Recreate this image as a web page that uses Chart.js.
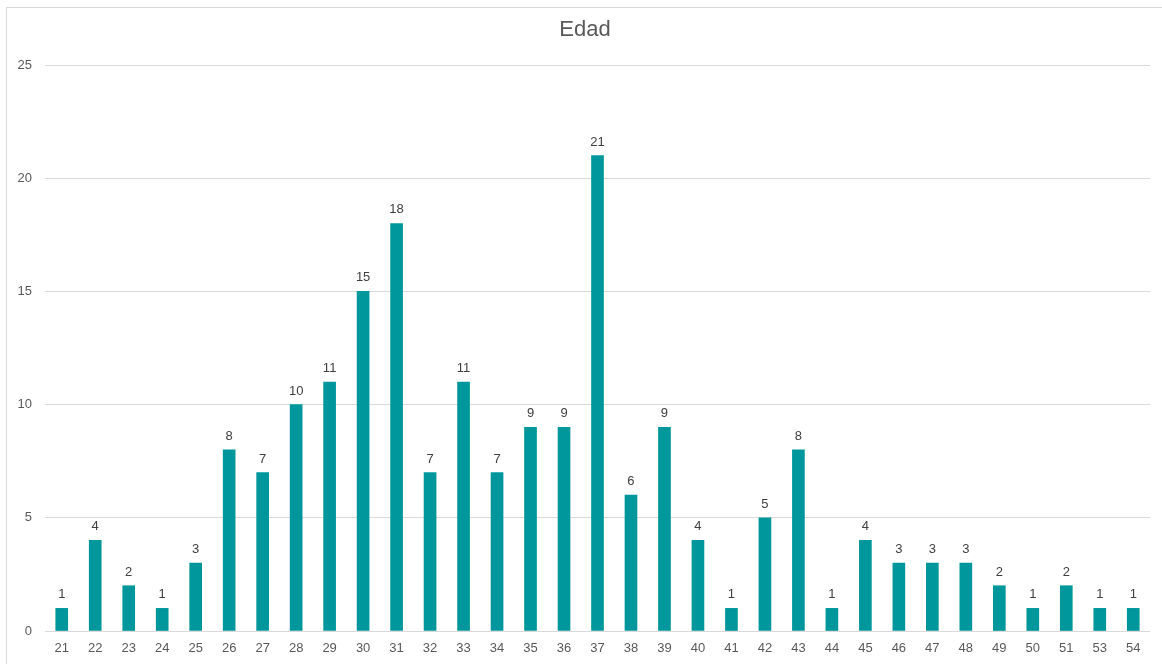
<!DOCTYPE html>
<html>
<head>
<meta charset="utf-8">
<script src="https://cdn.jsdelivr.net/npm/chart.js@4"></script>
<style>
  html, body { margin: 0; padding: 0; background: #fff; }
  #wrap { position: relative; width: 1162px; height: 664px; overflow: hidden; }
  #frame { position: absolute; left: 6px; top: 7px; width: 1170px; height: 670px; border: 1px solid #d9d9d9; box-sizing: border-box; }
  #myChart { position: absolute; left: 0; top: 0; }
</style>
</head>
<body>
<div id="wrap">
  <div id="frame"></div>
  <canvas id="myChart" width="1162" height="664"></canvas>
</div>
<script>
const edades = ["21", "22", "23", "24", "25", "26", "27", "28", "29", "30", "31", "32", "33", "34", "35", "36", "37", "38", "39", "40", "41", "42", "43", "44", "45", "46", "47", "48", "49", "50", "51", "53", "54"];
const cantidad = [1, 4, 2, 1, 3, 8, 7, 10, 11, 15, 18, 7, 11, 7, 9, 9, 21, 6, 9, 4, 1, 5, 8, 1, 4, 3, 3, 3, 2, 1, 2, 1, 1];
const yTicks = [0, 5, 10, 15, 20, 25];
const titulo = "Edad";

const fontFamily = "'Liberation Sans', Arial, sans-serif";

// etiquetas encima de cada barra + titulo centrado en el marco
const valueLabels = {
  id: "valueLabels",
  afterDatasetsDraw(chart) {
    const { ctx } = chart;
    const meta = chart.getDatasetMeta(0);
    ctx.save();
    ctx.font = "13px " + fontFamily;
    ctx.fillStyle = "#404040";
    ctx.textAlign = "center";
    ctx.textBaseline = "alphabetic";
    meta.data.forEach((bar, i) => {
      ctx.fillText(String(chart.data.datasets[0].data[i]), bar.x, bar.y - 10);
    });

    ctx.font = "22px " + fontFamily;
    ctx.fillStyle = "#595959";
    ctx.textBaseline = "middle";
    ctx.fillText(titulo, chart.width / 2 + 4, 30);
    ctx.restore();
  },
};

function initChart() {
  const data = {
    labels: edades,
    datasets: [
      {
        data: cantidad,
        backgroundColor: "#00979c",
        borderWidth: 0,
        barThickness: 12,
      },
    ],
  };

  const config = {
    type: "bar",
    data: data,
    options: {
      responsive: false,
      animation: false,
      layout: { padding: { left: 0, right: 12, top: 65, bottom: 0 } },
      plugins: {
        legend: { display: false },
        tooltip: { enabled: false },
        title: { display: false },
      },
      scales: {
        x: {
          grid: { display: false, drawTicks: false },
          border: { display: false },
          ticks: {
            color: "#595959",
            font: { family: fontFamily, size: 13 },
            padding: 10,
            maxRotation: 0,
            autoSkip: false,
          },
          afterFit(scale) {
            scale.height = 33;
          },
        },
        y: {
          min: 0,
          max: 25,
          afterBuildTicks(scale) {
            scale.ticks = yTicks.map((v) => ({ value: v }));
          },
          grid: { color: "#d9d9d9", lineWidth: 1, drawTicks: false },
          border: { display: false },
          ticks: {
            color: "#595959",
            font: { family: fontFamily, size: 13 },
            padding: 13,
          },
          afterFit(scale) {
            scale.width = 45;
          },
        },
      },
    },
    plugins: [valueLabels],
  };

  new Chart(document.getElementById("myChart"), config);
}

initChart();
</script>
</body>
</html>
